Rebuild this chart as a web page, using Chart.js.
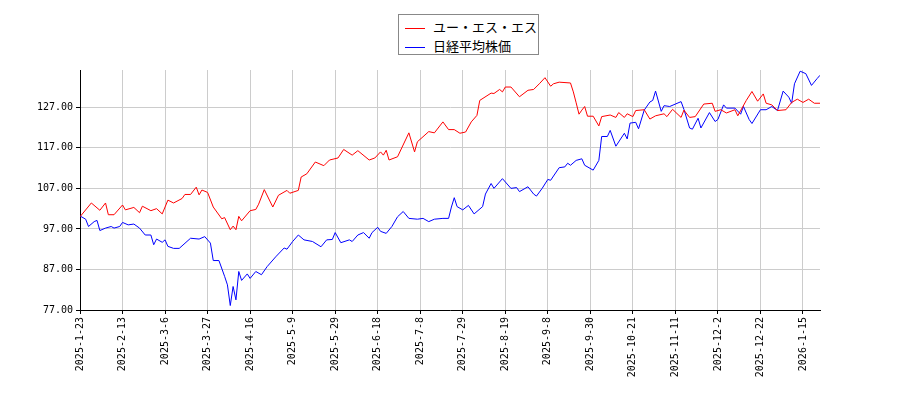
<!DOCTYPE html>
<html><head><meta charset="utf-8">
<script src="https://cdn.jsdelivr.net/npm/chart.js@4/dist/chart.umd.min.js"></script>
<style>
body{margin:0;background:#fff}
#wrap{position:relative;width:900px;height:400px}
#lg{position:absolute;left:398px;top:14px;width:141px;height:41px;border:1px solid #888;background:#fff;font:13px "Noto Sans CJK JP","DejaVu Sans",sans-serif;box-sizing:border-box;padding:2px 0 0 6px;line-height:19px}
#lg span.l{display:inline-block;width:20px;height:0;border-top:1.5px solid;vertical-align:middle;margin-right:8px}
</style></head><body>
<div id="wrap"><canvas id="c" width="900" height="400"></canvas>
<div id="lg"><div><span class="l" style="border-color:#f00"></span>ユー・エス・エス</div><div><span class="l" style="border-color:#00f"></span>日経平均株価</div></div></div>
<script>
const tickLabels=["2025-1-23","2025-2-13","2025-3-6","2025-3-27","2025-4-16","2025-5-9","2025-5-29","2025-6-18","2025-7-8","2025-7-29","2025-8-19","2025-9-8","2025-9-30","2025-10-21","2025-11-11","2025-12-2","2025-12-22","2026-1-15"];
const seriesNames=["ユー・エス・エス","日経平均株価"];
const redIdx=[0,4,7,9,10,12,15,16,19,21,22,25,27,29,31,33,36,37,39,41,42,43,45,47,50,51,53,54,55,56,57,60,62,63,65,68,70,73,74,77,78,80,83,86,88,91,93,96,98,102,104,106,107,108,109,112,116,118,119,123,125,128,130,132,134,136,138,140,141,145,146,148,149,150,152,155,158,160,162,164,166,167,169,173,174,175,176,177,178,179,181,183,184,187,189,190,192,193,195,196,199,201,203,206,207,209,212,213,215,217,220,223,224,226,228,231,232,235,237,239,241,242,244,246,249,251,253,255,257,259,261];
const redVal=[100.0,103.4,101.6,103.4,100.5,100.5,102.9,101.7,102.3,101,102.6,101.5,102,100.7,104.1,103.4,104.5,105.5,105.5,107.3,105.4,106.6,106,102.4,99.5,99.8,96.8,97.7,96.8,100.1,99,101.5,101.8,103.1,106.7,102.4,105.3,106.5,105.8,106.5,109.8,110.6,113.5,112.6,114,114.5,116.6,115.2,116.3,114,114.5,116,115.2,116.4,114,114.8,120.7,116,118.5,121,120.7,123.4,121.5,121.5,120.6,120.9,123.4,125,128.7,130.5,130.4,131.4,130.8,132,132,129.6,131.2,131.4,132.8,134.3,132.2,132.8,133.2,133,130.8,128.1,125.3,126.3,127.2,124.8,124.8,122.4,124.7,125.1,124.5,125.7,124.5,125.4,124.7,126.2,126.4,124.1,124.9,125.4,124.7,126.5,124.5,126.3,124.5,124.7,127.8,128,126,126.4,125.6,126.4,124.9,128.7,130.9,128.5,130.3,128,127.6,126.2,126.4,128.2,129,128.2,129,128,128];
const blueIdx=[0,2,3,5,6,7,9,11,12,14,15,17,19,21,23,25,26,27,29,30,31,33,35,39,42,44,46,47,49,51,52,53,54,55,56,57,59,60,62,64,66,69,72,73,75,77,79,82,85,87,89,90,92,95,96,98,100,102,103,105,106,108,110,112,114,116,119,121,123,125,128,130,131,132,133,135,137,139,142,143,145,146,149,152,154,155,158,160,161,163,165,166,169,171,172,173,175,177,178,181,183,184,186,187,189,192,193,194,196,197,199,201,202,203,205,206,208,212,213,215,216,218,219,222,224,225,227,228,231,233,234,236,237,240,242,244,246,248,250,251,252,254,256,258,260,261];
const blueVal=[100.2,99.4,97.6,98.8,99.1,96.6,97.2,97.6,97.2,97.6,98.6,98,98.2,97.2,95.5,95.5,93.1,94.5,93.7,94.3,92.7,92.2,92.2,94.7,94.5,95.1,93.5,89.2,89.2,85.3,83.2,78.1,82.8,79.5,86.5,84.3,85.9,84.8,86.5,85.7,87.7,90.1,92.3,92,93.9,95.5,94.3,93.9,92.6,94.3,94.4,96.1,93.6,94.3,93.9,95.5,96.1,94.7,96.1,97.4,96.4,95.9,97.6,100,101.3,99.6,99.4,99.6,98.8,99.4,99.6,99.6,102.4,104.7,102.5,101.7,102.8,100.7,102.5,105.6,108.2,107,109.4,107,107.2,106.2,107.4,105.6,105.1,107,109.2,109,112.1,112.3,113.2,112.7,113.9,114.3,112.7,111.5,113.9,119.8,119.8,121.3,117.4,120.6,119.2,123.1,123.3,121.7,126.3,128.3,128.7,131,126,127.4,127.2,128.4,126.5,121.9,121.6,124.3,121.9,125.7,123.5,124,127.6,126.8,126.8,125.3,127.2,124,123,126.4,126.4,127.2,126.2,131,129.5,128,132.8,135.9,135.3,132.4,134.1,134.9];
const mk=(ix,v)=>ix.map((x,i)=>({x:x,y:v[i]}));
new Chart(document.getElementById('c'),{
 type:'line',
 data:{datasets:[
  {label:seriesNames[0],data:mk(redIdx,redVal),borderColor:'#ff0000',borderWidth:1,pointRadius:0,tension:0},
  {label:seriesNames[1],data:mk(blueIdx,blueVal),borderColor:'#0000ff',borderWidth:1,pointRadius:0,tension:0}]},
 options:{responsive:false,animation:false,
  layout:{padding:{left:0,top:70,right:80,bottom:0}},
  plugins:{legend:{display:false},tooltip:{enabled:false}},
  scales:{
   x:{type:'linear',min:0,max:261,
    afterFit:s=>{s.height=90},
    afterBuildTicks:s=>{s.ticks=tickLabels.map((t,i)=>({value:i*15}))},
    ticks:{autoSkip:false,maxRotation:90,minRotation:90,color:'#000',font:{family:'DejaVu Sans Mono',size:10},callback:(v)=>tickLabels[Math.round(v/15)]},
    grid:{color:'#cccccc',tickLength:4,tickColor:'#000'},border:{color:'#000'}},
   y:{min:77,max:136.2,
    afterFit:s=>{s.width=80},
    afterBuildTicks:s=>{s.ticks=[77,87,97,107,117,127].map(v=>({value:v}))},
    ticks:{color:'#000',font:{family:'DejaVu Sans Mono',size:10},callback:v=>v.toFixed(2)},
    grid:{color:'#cccccc',tickLength:4,tickColor:'#000'},border:{color:'#000'}}
  }}
});
</script></body></html>
